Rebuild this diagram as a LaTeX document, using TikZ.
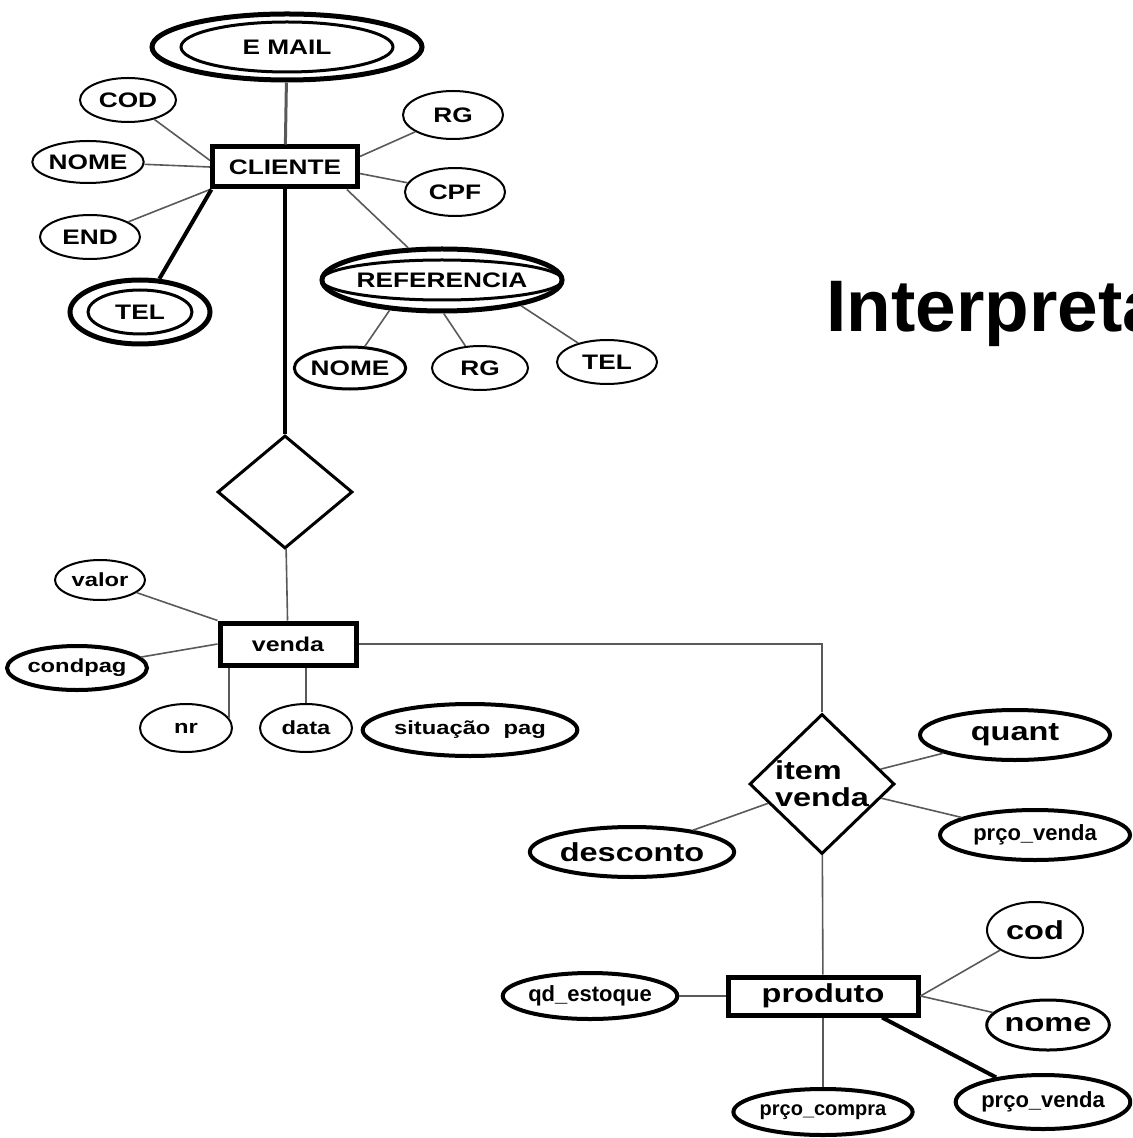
\documentclass[tikz,border=0pt]{standalone}
\usepackage{fontspec}
\setmainfont{Liberation Sans}
\newfontfamily\erwide[FakeStretch=1.25]{Liberation Sans}
\usetikzlibrary{shapes.geometric}

\tikzset{
  attr/.style={ellipse, draw, line width=1pt, inner sep=0pt,
    font=\erwide\bfseries\fontsize{10.5}{12}\selectfont},
  attrthick/.style={attr, line width=2pt},
  ring/.style={ellipse, draw, line width=2.5pt, inner sep=0pt},
  entity/.style={rectangle, draw, line width=2.5pt, inner sep=0pt},
  rel/.style={diamond, draw, line width=1.5pt, inner sep=0pt},
  link/.style={draw=black!65, line width=0.8pt},
  heavylink/.style={draw=black, line width=2pt},
  smalltxt/.style={font=\erwide\bfseries\fontsize{9.5}{11}\selectfont},
  bigtxt/.style={font=\erwide\bfseries\fontsize{13}{13.5}\selectfont},
  narrowtxt/.style={font=\bfseries\fontsize{11}{12}\selectfont},
}

\begin{document}
\begin{tikzpicture}[x=0.5pt, y=-0.5pt]
  \useasboundingbox (0,0) rectangle (1132,1138);
  \clip (0,0) rectangle (1132,1138);

  % CLIENTE and its attributes
  \node[entity, minimum width=72.5pt, minimum height=20pt,
    font=\erwide\bfseries\fontsize{10.5}{12}\selectfont] (cliente) at (285,167) {CLIENTE};
  \node[attr, minimum width=106pt, minimum height=25pt, line width=1.5pt] (email) at (287,47) {E MAIL};
  \node[ring, minimum width=135pt, minimum height=33pt] (emailo) at (email) {};
  \node[attr, minimum width=48pt, minimum height=22pt] (cod) at (128,100) {COD};
  \node[attr, minimum width=48pt, minimum height=21pt] (nome) at (88,162) {NOME};
  \node[attr, minimum width=50pt, minimum height=22pt] (end) at (90,237) {END};
  \node[attr, minimum width=52pt, minimum height=22pt, line width=1.5pt] (tel) at (140,312) {TEL};
  \node[ring, minimum width=70pt, minimum height=32pt] (telo) at (tel) {};
  \node[attr, minimum width=50pt, minimum height=24pt] (rg) at (453,115) {RG};
  \node[attr, minimum width=50pt, minimum height=24pt] (cpf) at (455,192) {CPF};
  \node[attr, minimum width=95pt, minimum height=20pt, line width=1.5pt] (ref) at (442,280) {REFERENCIA};
  \node[ring, minimum width=120pt, minimum height=31pt] (refo) at (ref) {};
  \node[attr, minimum width=46pt, minimum height=21pt, line width=1.5pt] (refnome) at (350,368) {NOME};
  \node[attr, minimum width=48pt, minimum height=22pt] (refrg) at (480,368) {RG};
  \node[attr, minimum width=50pt, minimum height=22pt] (reftel) at (607,362) {TEL};

  \draw[link, line width=1.5pt] (emailo) -- (cliente);
  \draw[link] (cod) -- (cliente.175);
  \draw[link] (nome) -- (cliente.west);
  \draw[link] (end) -- (cliente.south west);
  \draw[heavylink] (telo) -- (cliente.-163);
  \draw[link] (rg) -- (cliente.8);
  \draw[link] (cpf) -- (cliente.-5);
  \draw[link] (refo) -- (cliente.-20);
  \draw[link] (refo.-150) -- (refnome);
  \draw[link] (refo.-87) -- (refrg);
  \draw[link] (refo.-18) -- (reftel);

  % relationship CLIENTE - venda
  \node[rel, minimum width=67.5pt, minimum height=56.5pt] (compra) at (285,492) {};
  \draw[heavylink] (cliente) -- (compra);

  % venda and its attributes
  \node[entity, minimum width=68pt, minimum height=21pt,
    font=\erwide\bfseries\fontsize{10}{12}\selectfont] (venda) at (288,644) {venda};
  \node[attr, smalltxt, minimum width=45pt, minimum height=20pt] (valor) at (100,580) {valor};
  \node[attrthick, smalltxt, minimum width=65pt, minimum height=22pt] (condpag) at (77,668) {condpag};
  \node[attr, smalltxt, minimum width=46pt, minimum height=24pt] (nr) at (186,728) {nr};
  \node[attr, smalltxt, minimum width=46pt, minimum height=24pt] (data) at (306,728) {data};
  \node[attrthick, smalltxt, minimum width=95pt, minimum height=26pt] (situacao) at (470,730) {situação\ \ pag};

  \draw[link] (compra) -- (venda);
  \draw[link] (valor) -- (venda.north west);
  \draw[link] (condpag) -- (venda.west);
  \draw[link] (nr.13) -- (nr.13 |- venda.south);
  \draw[link] (data) -- (data |- venda.south);

  % item venda
  \node[rel, minimum width=72.5pt, minimum height=62.5pt, bigtxt, align=left] (item) at (822,784) {item\\venda};
  \node[attrthick, bigtxt, minimum width=95pt, minimum height=25pt] (quant) at (1015,735) {quant};
  \node[attrthick, narrowtxt, minimum width=95pt, minimum height=25pt] (itempreco) at (1035,835) {prço\_venda};
  \node[attrthick, bigtxt, minimum width=100pt, minimum height=25pt] (desconto) at (632,852) {desconto};

  \draw[link] (venda.east) -| (item.north);
  \draw[link] (item) -- (quant);
  \draw[link] (item) -- (itempreco);
  \draw[link] (item) -- (desconto);

  % produto and its attributes
  \node[entity, minimum width=95pt, minimum height=19pt, bigtxt] (produto) at (823,996) {produto};
  \node[attr, bigtxt, minimum width=48pt, minimum height=28pt] (pcod) at (1035,930) {cod};
  \node[attr, bigtxt, minimum width=60pt, minimum height=25pt, line width=1.5pt] (pnome) at (1048,1025) {nome};
  \node[attrthick, narrowtxt, minimum width=85pt, minimum height=27pt] (pvenda) at (1043,1102) {prço\_venda};
  \node[attrthick, narrowtxt, font=\bfseries\fontsize{10}{12}\selectfont,
    minimum width=75pt, minimum height=23pt] (pcompra) at (823,1112) {prço\_compra};
  \node[attrthick, narrowtxt, minimum width=75pt, minimum height=23pt] (estoque) at (590,996) {qd\_estoque};

  \draw[link] (item) -- (produto);
  \draw[link] (produto.east) -- (pcod);
  \draw[link] (produto.east) -- (pnome);
  \draw[heavylink] (produto.-20) -- (pvenda);
  \draw[link] (produto) -- (pcompra);
  \draw[link] (estoque) -- (produto);

  % heading, cut at the right edge
  \node[font=\bfseries\fontsize{36.5}{42}\selectfont, anchor=base west, inner sep=0pt] (titulo) at (826,332) {Interpreta};
\end{tikzpicture}
\end{document}
